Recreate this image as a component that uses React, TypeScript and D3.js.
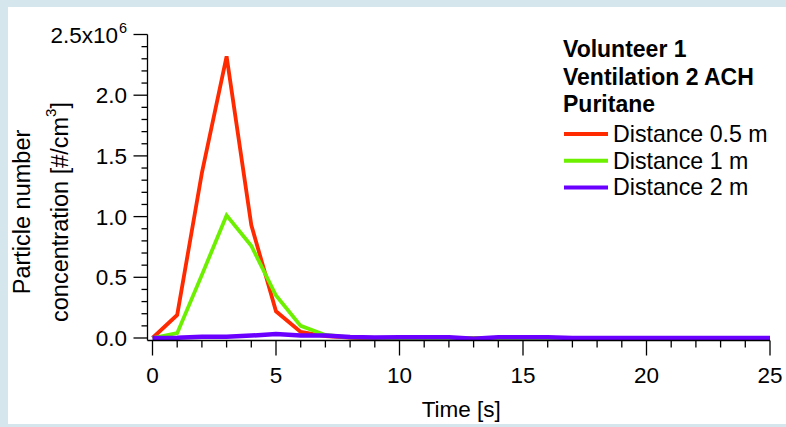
import React from "react";
import * as d3 from "d3";

const times = d3.range(0, 26);
// values in #/cm3 (x10^6 shown on axis)
const red05m = [0, 0.19, 1.36, 2.32, 0.93, 0.22, 0.05, 0.015, 0.003, -0.006, 0, 0, 0, 0, 0, 0, 0, 0, 0, 0, 0, 0, 0, 0, 0, 0].map((v) => v * 1e6);
const green1m = [0, 0.04, 0.52, 1.01, 0.76, 0.35, 0.1, 0.025, 0.005, 0.001, -0.002, -0.002, -0.002, -0.002, -0.002, -0.002, -0.002, -0.002, -0.002, -0.002, -0.002, -0.002, -0.002, -0.002, -0.002, -0.002].map((v) => v * 1e6);
const blue2m = [0, 0.002, 0.01, 0.01, 0.02, 0.032, 0.02, 0.02, 0.008, 0.004, 0.007, 0.007, 0.007, -0.006, 0.007, 0.007, 0.007, 0.0, 0.0, 0.0, 0.0, 0.0, 0.0, 0.0, 0.0, 0.0].map((v) => v * 1e6);

const seriesNames = ["Distance 0.5 m", "Distance 1 m", "Distance 2 m"];
const seriesColors = ["#ff2a00", "#6cf000", "#6a00ff"];
const seriesValues = [red05m, green1m, blue2m];

const legendTitle = ["Volunteer 1", "Ventilation 2 ACH", "Puritane"];
const xTickValues = [0, 5, 10, 15, 20, 25];
const yTickValues = [0, 0.5e6, 1.0e6, 1.5e6, 2.0e6, 2.5e6];
const yTickLabels = ["0.0", "0.5", "1.0", "1.5", "2.0", "2.5x10"];
const xTitle = "Time [s]";
const yTitle1 = "Particle number";
const yTitle2 = "concentration [#/cm";

const W = 786;
const H = 427;
const FONT = "Arial, 'Liberation Sans', sans-serif";

export default function App() {
  const x = d3.scaleLinear().domain([0, 25]).range([152.5, 770]);
  const y = d3.scaleLinear().domain([0, 2.5e6]).range([338, 34.5]);
  const axisY = 340.5;
  const axisX = 147.5;

  const line = d3
    .line<number>()
    .x((_, i) => x(times[i]))
    .y((d) => y(d));

  const xMinor = d3.range(0, 26, 1).filter((t) => t % 5 !== 0);
  const yMinor = d3.range(0, 26, 1).filter((v) => v % 5 !== 0).map((v) => v * 1e5);

  return (
    <svg
      width={W}
      height={H}
      style={{ position: "absolute", left: 0, top: 0, display: "block" }}
      fontFamily={FONT}
    >
      <rect x={0} y={0} width={W} height={H} fill="#d5e7ed" />
      <rect x={8} y={7} width={W - 8} height={417} fill="#ffffff" />

      {/* series */}
      {seriesValues.map((vals, i) => (
        <path
          key={i}
          d={line(vals) || ""}
          fill="none"
          stroke={seriesColors[i]}
          strokeWidth={i === 2 ? 4.5 : 3.8}
          strokeLinejoin="miter"
        />
      ))}

      {/* axes */}
      <line x1={axisX} x2={axisX} y1={y(2.5e6)} y2={axisY} stroke="#000" strokeWidth={1.3} />
      <line x1={axisX} x2={x(25)} y1={axisY} y2={axisY} stroke="#000" strokeWidth={1.3} />

      {xTickValues.map((t) => (
        <g key={"xt" + t}>
          <line x1={x(t)} x2={x(t)} y1={axisY} y2={axisY + 15} stroke="#000" strokeWidth={1.3} />
          <text x={x(t)} y={383} fontSize={22.5} textAnchor="middle" fill="#000">
            {t}
          </text>
        </g>
      ))}
      {xMinor.map((t) => (
        <line key={"xm" + t} x1={x(t)} x2={x(t)} y1={axisY} y2={axisY + 7} stroke="#000" strokeWidth={1.3} />
      ))}

      {yTickValues.map((v, i) => (
        <g key={"yt" + i}>
          <line x1={axisX - 14} x2={axisX} y1={y(v)} y2={y(v)} stroke="#000" strokeWidth={1.3} />
          <text
            x={i === yTickValues.length - 1 ? 118 : 127}
            y={y(v) + 8}
            fontSize={22.5}
            textAnchor="end"
            fill="#000"
          >
            {yTickLabels[i]}
          </text>
        </g>
      ))}
      <text x={119} y={y(2.5e6) - 2} fontSize={14.5} fill="#000">
        6
      </text>
      {yMinor.map((v) => (
        <line key={"ym" + v} x1={axisX - 6} x2={axisX} y1={y(v)} y2={y(v)} stroke="#000" strokeWidth={1.3} />
      ))}

      {/* axis titles */}
      <text x={(x(0) + x(25)) / 2} y={417} fontSize={22.5} textAnchor="middle" fill="#000">
        {xTitle}
      </text>
      <g transform={`translate(30, 212) rotate(-90)`}>
        <text x={0} y={0} fontSize={23.5} textAnchor="middle" fill="#000">
          {yTitle1}
        </text>
      </g>
      <g transform={`translate(68, 212) rotate(-90)`}>
        <text x={0} y={0} fontSize={23.5} textAnchor="middle" fill="#000">
          {yTitle2}
          <tspan dy={-12} fontSize={15}>3</tspan>
          <tspan dy={12}>]</tspan>
        </text>
      </g>

      {/* legend */}
      {legendTitle.map((t, i) => (
        <text key={"lt" + i} x={563} y={57 + i * 27.5} fontSize={23} fontWeight="bold" fill="#000">
          {t}
        </text>
      ))}
      {seriesNames.map((n, i) => (
        <g key={"lg" + i}>
          <line x1={564} x2={608} y1={134 + i * 26.7} y2={134 + i * 26.7} stroke={seriesColors[i]} strokeWidth={4} />
          <text x={613} y={142 + i * 26.7} fontSize={23.2} fill="#000">
            {n}
          </text>
        </g>
      ))}
    </svg>
  );
}
